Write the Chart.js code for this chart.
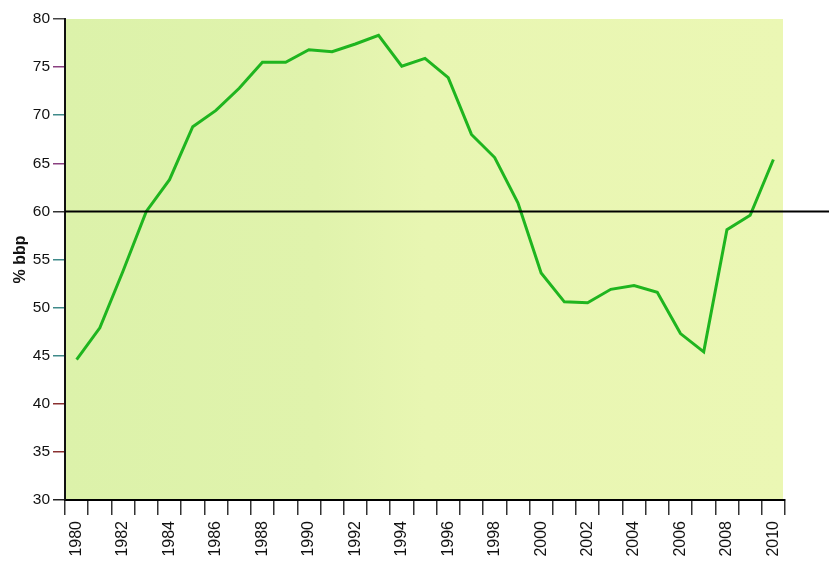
<!DOCTYPE html>
<html>
<head>
<meta charset="utf-8">
<script src="https://cdn.jsdelivr.net/npm/chart.js@4.4.0/dist/chart.umd.min.js"></script>
<style>
html,body{margin:0;padding:0;background:#fff;}
#wrap{width:829px;height:564px;position:relative;}
</style>
</head>
<body>
<div id="wrap"><canvas id="c" width="829" height="564"></canvas></div>
<script>
const years = [1980,1981,1982,1983,1984,1985,1986,1987,1988,1989,1990,1991,1992,1993,1994,1995,1996,1997,1998,1999,2000,2001,2002,2003,2004,2005,2006,2007,2008,2009,2010];
const debtPct = [44.6,47.9,53.8,60.0,63.3,68.8,70.5,72.8,75.5,75.5,76.8,76.6,77.4,78.3,75.1,75.9,73.9,68.0,65.6,60.9,53.6,50.6,50.5,51.9,52.3,51.6,47.3,45.4,58.1,59.6,65.4];
const yTicks = [30,35,40,45,50,55,60,65,70,75,80];
const refLevel = 60;
const yTickColors = ['#222','#8a3030','#8a3030','#3f8a8a','#3f8a8a','#3f8a8a','#333','#8a4080','#3f8a8a','#8a4080','#444'];
const FONT = 'Liberation Sans, Arial, Helvetica, sans-serif';

const bgPlugin = {
  id: 'bg',
  beforeDraw(chart) {
    const {ctx, chartArea: a} = chart;
    ctx.save();
    const g = ctx.createLinearGradient(a.left, 0, a.right, 0);
    g.addColorStop(0, '#dcf2aa');
    g.addColorStop(0.35, '#e0f3ac');
    g.addColorStop(0.5, '#e8f6b2');
    g.addColorStop(1, '#ebf7b4');
    ctx.fillStyle = g;
    ctx.fillRect(a.left, a.top, a.right - a.left - 2, a.bottom - a.top);
    ctx.restore();
  }
};
const refLinePlugin = {
  id: 'refLine',
  afterDatasetsDraw(chart) {
    const {ctx, chartArea: a, scales} = chart;
    const y = scales.y.getPixelForValue(refLevel);
    ctx.save();
    ctx.strokeStyle = '#000';
    ctx.lineWidth = 2;
    ctx.beginPath();
    ctx.moveTo(a.left, y);
    ctx.lineTo(chart.width, y);
    ctx.stroke();
    ctx.restore();
  }
};

new Chart(document.getElementById('c'), {
  type: 'line',
  data: {
    labels: years.map(String),
    datasets: [{
      data: debtPct,
      borderColor: '#1fb51f',
      borderWidth: 3,
      pointRadius: 0,
      tension: 0,
      fill: false
    }]
  },
  options: {
    responsive: false,
    animation: false,
    layout: {padding: {top: 19, right: 44, bottom: 0, left: 0}},
    plugins: {legend: {display: false}, tooltip: {enabled: false}},
    scales: {
      x: {
        type: 'category',
        offset: true,
        grid: {offset: true, drawOnChartArea: false, drawTicks: true, tickLength: 15, color: '#333', lineWidth: 1.5},
        border: {display: true, color: '#000', width: 2},
        ticks: {
          autoSkip: false, minRotation: 90, maxRotation: 90, padding: 6,
          color: '#111', font: {family: FONT, size: 16},
          callback: function(v, i) { const yr = years[i]; return yr % 2 === 0 ? String(yr) : ''; }
        },
        afterFit(s) { s.height = 64; }
      },
      y: {
        min: 30, max: 80,
        afterBuildTicks(s) { s.ticks = yTicks.map(v => ({value: v})); },
        grid: {drawOnChartArea: false, drawTicks: true, tickLength: 12, lineWidth: 1.5,
               color: (c) => yTickColors[c.index] || '#333'},
        border: {display: true, color: '#111', width: 2},
        ticks: {padding: 3, color: '#111', font: {family: FONT, size: 15.5}},
        title: {display: true, text: '% bbp', color: '#111', padding: {top: 11, bottom: 0},
                font: {family: FONT, size: 16, weight: 'bold'}},
        afterFit(s) { s.width = 65; }
      }
    }
  },
  plugins: [bgPlugin, refLinePlugin]
});
</script>
</body>
</html>
